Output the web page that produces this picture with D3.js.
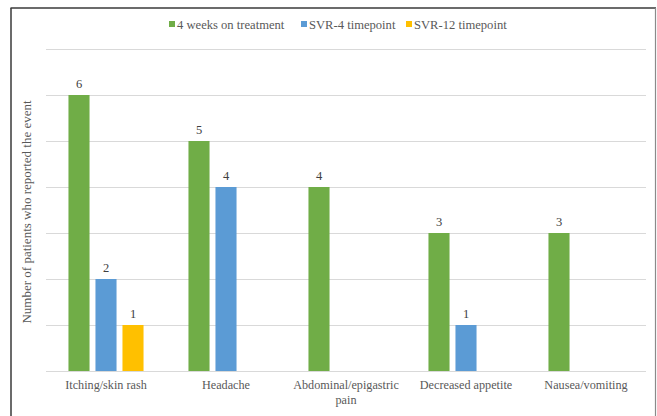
<!DOCTYPE html>
<html>
<head>
<meta charset="utf-8">
<script src="https://cdn.jsdelivr.net/npm/d3@7"></script>
<style>
  html, body { margin: 0; padding: 0; background: #fff; }
  svg { display: block; }
</style>
</head>
<body>
<script>
// Adverse events reported at each follow-up point
const categories = ["Itching/skin rash", "Headache", "Abdominal/epigastric pain", "Decreased appetite", "Nausea/vomiting"];
const seriesNames = ["4 weeks on treatment", "SVR-4 timepoint", "SVR-12 timepoint"];
const weeks4 = [6, 5, 4, 3, 3];
const svr4   = [2, 4, null, 1, null];
const svr12  = [1, null, null, null, null];
const yTicks = [0, 1, 2, 3, 4, 5, 6, 7];
const colors = ["#70AD47", "#5B9BD5", "#FFC000"];

const FONT = "'Liberation Serif', 'Times New Roman', 'DejaVu Serif', serif";
const W = 657, H = 416;
const margin = { left: 46, right: 11, top: 49, bottom: 45 };

const svg = d3.select("body").append("svg").attr("width", W).attr("height", H);

// outer frame
svg.append("line").attr("x1", 11).attr("x2", 11).attr("y1", 8).attr("y2", H + 2)
  .attr("stroke", "#3a3a3a").attr("stroke-width", 1.5);
svg.append("line").attr("x1", 10.5).attr("x2", 656).attr("y1", 8).attr("y2", 8)
  .attr("stroke", "#3a3a3a").attr("stroke-width", 1.5);
svg.append("line").attr("x1", 655.5).attr("x2", 655.5).attr("y1", 8).attr("y2", H + 2)
  .attr("stroke", "#8a8a8a").attr("stroke-width", 1.2);

const x0 = d3.scaleBand().domain(categories)
  .range([margin.left, W - margin.right]).paddingInner(0.325).paddingOuter(0.1625);
const x1 = d3.scaleBand().domain(seriesNames)
  .range([0, x0.bandwidth()]).paddingInner(0.22).paddingOuter(0.11);
const y = d3.scaleLinear().domain([0, 7]).range([H - margin.bottom, margin.top]);

// horizontal gridlines
svg.append("g").selectAll("line").data(yTicks).join("line")
  .attr("x1", margin.left).attr("x2", W - margin.right)
  .attr("y1", d => y(d) + 0.5).attr("y2", d => y(d) + 0.5)
  .attr("stroke", "#d9d9d9").attr("stroke-width", 1);

const rows = categories.map((c, i) => ({
  cat: c,
  vals: [weeks4[i], svr4[i], svr12[i]].map((v, j) => ({ key: seriesNames[j], v, j }))
    .filter(d => d.v !== null)
}));

const groups = svg.append("g").selectAll("g").data(rows).join("g")
  .attr("transform", d => `translate(${x0(d.cat)},0)`);

groups.selectAll("rect").data(d => d.vals).join("rect")
  .attr("x", d => x1(d.key))
  .attr("y", d => y(d.v))
  .attr("width", x1.bandwidth())
  .attr("height", d => y(0) - y(d.v))
  .attr("fill", d => colors[d.j]);

groups.selectAll("text.val").data(d => d.vals).join("text")
  .attr("class", "val")
  .attr("x", d => x1(d.key) + x1.bandwidth() / 2)
  .attr("y", d => y(d.v) - 7)
  .attr("text-anchor", "middle")
  .attr("font-family", FONT)
  .attr("font-size", 12.5)
  .attr("fill", "#404040")
  .text(d => d.v);

// category axis
const xAxis = svg.append("g").attr("transform", `translate(0,${y(0)})`)
  .call(d3.axisBottom(x0).tickSize(0).tickFormat(""));
xAxis.select(".domain").remove();

const labelLines = { "Abdominal/epigastric pain": ["Abdominal/epigastric", "pain"] };
svg.append("g").selectAll("text").data(categories).join("text")
  .attr("x", d => x0(d) + x0.bandwidth() / 2)
  .attr("y", y(0) + 18)
  .attr("text-anchor", "middle")
  .attr("font-family", FONT)
  .attr("font-size", 12.2)
  .attr("fill", "#595959")
  .each(function(d) {
    const lines = labelLines[d] || [d];
    d3.select(this).selectAll("tspan").data(lines).join("tspan")
      .attr("x", x0(d) + x0.bandwidth() / 2)
      .attr("dy", (l, i) => i === 0 ? 0 : 15)
      .text(l => l);
  });

// y axis title
svg.append("text")
  .attr("transform", `translate(31,${(y(0) + y(7)) / 2 + 2}) rotate(-90)`)
  .attr("text-anchor", "middle")
  .attr("font-family", FONT)
  .attr("font-size", 13)
  .attr("fill", "#595959")
  .text("Number of patients who reported the event");

// legend
const legendItems = [
  { name: seriesNames[0], x: 169 },
  { name: seriesNames[1], x: 301 },
  { name: seriesNames[2], x: 406 }
];
const lg = svg.append("g").selectAll("g").data(legendItems).join("g")
  .attr("transform", d => `translate(${d.x},24)`);
lg.append("rect").attr("x", 0).attr("y", -3).attr("width", 6).attr("height", 6)
  .attr("fill", (d, i) => colors[i]);
lg.append("text").attr("x", 8).attr("y", 4.5)
  .attr("font-family", FONT)
  .attr("font-size", 12.6)
  .attr("fill", "#595959")
  .text(d => d.name);
</script>
</body>
</html>
